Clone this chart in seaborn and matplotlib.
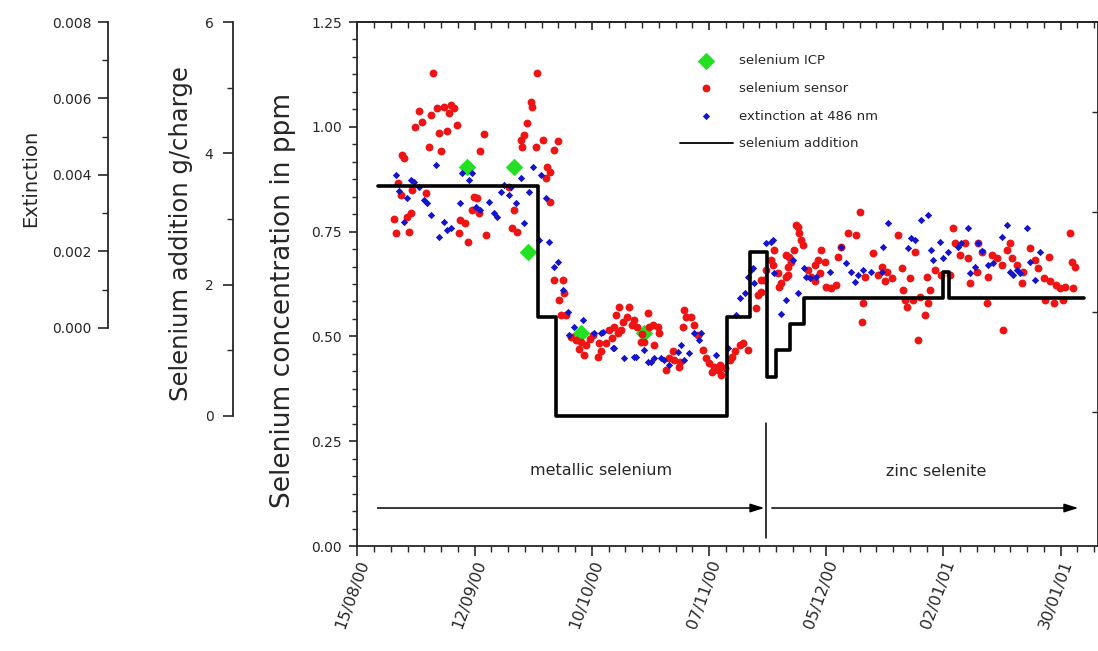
import numpy as np
import pandas as pd
import matplotlib
matplotlib.use("Agg")
import matplotlib.pyplot as plt
import matplotlib.dates as mdates
from matplotlib.ticker import MultipleLocator, FixedLocator, FormatStrFormatter, NullFormatter
import seaborn as sns

# ---------------- data ----------------
START = "2000-08-15"

# selenium ICP (days after start, ppm)
icp_day = [26.1, 37.3, 40.7, 53.4, 68.4]
icp_ppm = [0.904, 0.904, 0.701, 0.508, 0.508]

# selenium sensor (days after start, ppm)
sensor_day = [
    18.1, 14.7, 13.8, 15.5, 17.5, 19.1, 20.7, 22.3, 23.0, 21.8, 23.9, 19.5, 21.5, 17.1, 19.9,
    10.7, 11.1, 30.2, 29.4, 42.8, 41.4, 41.8, 40.6, 39.8, 39.0, 39.4, 44.4, 42.6, 47.8, 47.0,
    45.4, 46.0, 45.0, 46.0, 9.6, 10.3, 13.1, 16.3, 8.7, 11.9, 12.7, 9.3, 12.3, 27.8, 28.6,
    27.4, 29.0, 24.6, 25.8, 24.2, 26.3, 30.6, 37.4, 37.0, 38.2, 36.2, 47.0, 49.0, 49.4, 48.2,
    48.6,
    49.8, 51.0, 52.2, 53.4, 54.6, 54.2, 56.2, 57.8, 58.2, 57.4, 59.3, 60.1, 61.4, 62.2, 62.5,
    61.7, 63.4, 64.5, 64.9, 65.7, 66.9, 67.7, 69.3, 69.7, 70.5, 71.7, 72.1, 70.9, 68.5, 75.3,
    75.7, 73.7, 76.9, 78.1, 78.5, 77.7, 79.7, 80.5, 81.3, 82.5, 83.3, 84.1, 85.3, 86.1, 86.9,
    87.7, 88.9, 90.1, 91.3, 92.1, 93.3, 95.2, 95.6, 96.4, 97.6, 98.8, 99.6, 100.4, 101.2, 102.4,
    102.8, 103.2, 104.8, 105.6, 106.4, 104.3, 110.0, 109.2,
    53.0, 55.5, 60.8, 63.0, 66.0, 68.0, 74.5, 77.0, 84.8, 86.5, 89.5,
    120.0, 105.2, 106.0, 117.2, 119.2, 115.6, 114.8, 110.8, 111.6, 109.2, 110.4, 108.4, 107.6,
    103.6, 102.4, 102.8, 100.8, 99.2, 97.2, 96.4, 112.0, 113.2, 114.4, 120.8, 120.5, 121.2,
    123.2, 124.4, 125.2, 126.4, 127.6, 129.2, 130.0, 126.0, 130.4, 130.8, 131.2, 132.0, 133.2,
    132.7, 134.3, 135.5, 133.9, 136.3, 136.7, 136.0, 137.9, 139.5, 141.5, 142.3, 142.7, 143.9,
    145.1, 145.9, 146.3, 147.9, 148.3, 149.1, 150.3, 150.7, 151.5, 152.7, 153.9, 154.3, 155.1,
    155.9, 156.3, 157.5, 158.7, 159.1, 160.7, 161.9, 162.7, 163.9, 165.1, 164.3, 165.5, 166.3,
    167.0, 167.8, 168.6, 169.0, 170.2, 170.6, 171.4, 171.0,
]
sensor_ppm = [
    1.128, 1.038, 0.999, 1.012, 1.028, 1.044, 1.048, 1.052, 1.044, 1.032, 1.004, 0.986, 0.991, 0.953, 0.943,
    0.933, 0.925, 0.983, 0.943, 1.128, 1.060, 1.048, 1.008, 0.980, 0.969, 0.953, 0.969, 0.953, 0.965, 0.945,
    0.905, 0.893, 0.878, 0.821, 0.865, 0.837, 0.849, 0.841, 0.780, 0.786, 0.794, 0.747, 0.750, 0.833, 0.829,
    0.802, 0.794, 0.778, 0.770, 0.746, 0.726, 0.742, 0.802, 0.758, 0.750, 0.857, 0.635, 0.635, 0.603, 0.587,
    0.551,
    0.551, 0.499, 0.491, 0.487, 0.479, 0.456, 0.503, 0.484, 0.464, 0.452, 0.484, 0.515, 0.523, 0.507, 0.571,
    0.551, 0.535, 0.547, 0.571, 0.527, 0.523, 0.487, 0.555, 0.523, 0.527, 0.523, 0.507, 0.479, 0.487, 0.464,
    0.444, 0.420, 0.428, 0.563, 0.547, 0.523, 0.547, 0.527, 0.503, 0.468, 0.448, 0.436, 0.428, 0.420, 0.408,
    0.424, 0.444, 0.464, 0.479, 0.484, 0.468, 0.567, 0.599, 0.635, 0.658, 0.682, 0.706, 0.651, 0.627, 0.642,
    0.666, 0.690, 0.766, 0.746, 0.718, 0.706, 0.682, 0.631,
    0.470, 0.493, 0.497, 0.515, 0.540, 0.505, 0.448, 0.440, 0.415, 0.432, 0.452,
    0.797, 0.762, 0.730, 0.746, 0.742, 0.714, 0.690, 0.706, 0.678, 0.670, 0.651, 0.642, 0.658,
    0.678, 0.694, 0.646, 0.619, 0.670, 0.635, 0.607, 0.619, 0.615, 0.623, 0.579, 0.535, 0.642,
    0.698, 0.646, 0.666, 0.654, 0.639, 0.742, 0.662, 0.631, 0.611, 0.587, 0.571, 0.639, 0.702,
    0.587, 0.595, 0.551, 0.491, 0.579, 0.611, 0.642, 0.658, 0.646, 0.646, 0.758, 0.722, 0.694,
    0.722, 0.686, 0.627, 0.654, 0.722, 0.702, 0.579, 0.642, 0.694, 0.686, 0.670, 0.515, 0.706,
    0.722, 0.686, 0.670, 0.627, 0.654, 0.710, 0.682, 0.662, 0.639, 0.690, 0.587, 0.631, 0.579,
    0.623, 0.615, 0.587, 0.619, 0.746, 0.678, 0.666, 0.615,
]

# extinction at 486 nm (days after start, extinction)
ext_day = [
    9.1, 9.9, 12.7, 13.5, 14.7, 11.9, 15.9, 16.7, 18.7, 17.5, 11.1, 20.7, 21.5, 22.3, 19.5,
    25.0, 26.6, 27.4, 24.6, 28.4, 29.4, 31.4, 32.6, 33.4, 34.2, 35.0, 36.2, 36.6, 37.8, 39.0,
    39.8, 41.0, 42.0, 43.8, 45.0, 43.4, 45.8, 47.8, 47.0, 49.0, 50.2, 50.6, 53.8, 51.8, 56.6,
    58.6, 61.0, 63.7, 66.1, 69.3, 70.9, 73.3, 74.5, 77.3, 78.1, 79.3, 81.7, 82.1,
    58.2, 61.4, 66.5, 68.5, 70.1, 72.5, 76.5, 80.5, 85.7, 88.5, 90.5, 91.3, 92.5, 94.1, 93.3,
    94.8, 97.6, 98.8, 99.6, 102.4, 101.2, 104.0, 105.2, 106.8, 108.0, 109.6, 99.2, 94.5, 107.2,
    112.8, 115.6, 116.8, 118.0, 118.8, 119.6, 120.8, 122.8, 125.2, 125.6, 126.8, 131.5, 132.3,
    134.7, 136.3, 133.1, 137.1, 137.5, 139.1, 140.0, 141.1, 143.5, 144.3, 145.9, 146.3, 147.5,
    148.3, 149.1, 150.7, 151.9, 153.9, 155.1, 155.9, 156.7, 157.5, 158.3, 159.9, 160.7, 161.9,
    163.1,
]
ext_val = [
    0.00400, 0.00357, 0.00387, 0.00382, 0.00369, 0.00339, 0.00335, 0.00326, 0.00426, 0.00295,
    0.00278, 0.00278, 0.00256, 0.00261, 0.00239, 0.00404, 0.00387, 0.00404, 0.00326, 0.00317,
    0.00308, 0.00330, 0.00300, 0.00291, 0.00356, 0.00374, 0.00348, 0.00369, 0.00326, 0.00391,
    0.00274, 0.00356, 0.00422, 0.00400, 0.00339, 0.00230, 0.00226, 0.00173, 0.00160, 0.00099,
    0.00043, -0.00018, 0.00021, 0.00003, -0.00014, -0.00010, -0.00053, -0.00079, -0.00075,
    -0.00088, -0.00079, -0.00084, -0.00097, -0.00044, -0.00084, -0.00066, -0.00031, -0.00014,
    -0.00014, -0.00053, -0.00075, -0.00058, -0.00088, -0.00079, -0.00062, -0.00014, -0.00071,
    -0.00053, 0.00034, 0.00078, 0.00091, 0.00152, 0.00134, 0.00117, 0.00221, 0.00226, 0.00143,
    0.00073, 0.00037, 0.00178, 0.00091, 0.00156, 0.00130, 0.00134, 0.00230, 0.00156, 0.00134,
    0.00147, 0.00213, 0.00169, 0.00147, 0.00121, 0.00139, 0.00152, 0.00147, 0.00147, 0.00213,
    0.00274, 0.00208, 0.00234, 0.00282, 0.00295, 0.00230, 0.00204, 0.00178, 0.00226, 0.00182,
    0.00199, 0.00213, 0.00221, 0.00261, 0.00143, 0.00160, 0.00222, 0.00200, 0.00165, 0.00169,
    0.00239, 0.00269, 0.00147, 0.00139, 0.00152, 0.00143, 0.00261, 0.00173, 0.00125, 0.00199,
]

# selenium addition (step changes: days after start, g/charge)
add_day = [5.0, 43.1, 47.4, 88.3, 93.8, 97.9, 100.0, 103.4, 106.7, 139.8, 141.4, 173.5]
add_g = [3.5, 1.5, 0.0, 1.5, 2.5, 0.6, 1.0, 1.4, 1.8, 2.2, 1.8, 1.8]

# phases (days after start)
phase_start, phase_change, phase_end = 4.8, 97.5, 172.2
phase_labels = ["metallic selenium", "zinc selenite"]

# axis ticks
ppm_ticks = [0.00, 0.25, 0.50, 0.75, 1.00, 1.25]
charge_ticks = [0, 2, 4, 6]
ext_ticks = [0.000, 0.002, 0.004, 0.006, 0.008]
date_ticks = pd.date_range(START, periods=7, freq="28D")
date_minor = pd.date_range(START, periods=46, freq="4D")


def to_dates(days):
    return pd.Timestamp(START) + pd.to_timedelta(np.asarray(days, dtype=float), unit="D")


# ---------------- plot ----------------
sns.set_style("ticks")
plt.rcParams["font.family"] = ["DejaVu Sans"]
plt.rcParams["axes.linewidth"] = 1.3

W, H = 1098, 651
AX_L, AX_R, AX_T, AX_B = 357, 1097.5, 22, 546
fig = plt.figure(figsize=(W / 100, H / 100), dpi=100)
ax = fig.add_axes([AX_L / W, (H - AX_B) / H, (AX_R - AX_L) / W, (AX_B - AX_T) / H])


def ax_frac(px, py):
    return (px - AX_L) / (AX_R - AX_L), (AX_B - py) / (AX_B - AX_T)


ax_e = ax.twinx()
ax_e.set_zorder(1)
ax_s = ax.twinx()
ax_s.set_zorder(2)
ax_r = ax.twinx()
ax_r.set_zorder(3)
for a in (ax_e, ax_s, ax_r):
    a.patch.set_visible(False)

green = "#22e022"
red = "#ee1414"
blue = "#1414cc"

sns.scatterplot(x=to_dates(icp_day), y=icp_ppm, ax=ax, marker="D", s=80, color=green,
                linewidth=0, label="selenium ICP", zorder=3)
sns.scatterplot(x=to_dates(sensor_day), y=sensor_ppm, ax=ax, marker="o", s=32, color=red,
                linewidth=0, label="selenium sensor", zorder=4)
sns.scatterplot(x=to_dates(ext_day), y=ext_val, ax=ax_e, marker="D", s=14, color=blue,
                linewidth=0, label="extinction at 486 nm")
sns.lineplot(x=to_dates(add_day), y=add_g, ax=ax_s, drawstyle="steps-post", color="black",
             linewidth=2.6, estimator=None, sort=False, label="selenium addition")

for a in (ax, ax_e, ax_s, ax_r):
    lg = a.get_legend()
    if lg is not None:
        lg.remove()

# x axis
x0 = mdates.date2num(pd.Timestamp(START) + pd.Timedelta(days=-0.1))
x1 = mdates.date2num(pd.Timestamp(START) + pd.Timedelta(days=176.8))
ax.set_xlim(x0, x1)
ax.xaxis.set_major_locator(FixedLocator(mdates.date2num(date_ticks)))
ax.xaxis.set_minor_locator(FixedLocator(mdates.date2num(date_minor)))
ax.xaxis.set_major_formatter(mdates.DateFormatter("%d/%m/%y"))
ax.tick_params(axis="x", which="major", direction="out", length=7, width=1.2, pad=2, labelsize=11.5)
ax.tick_params(axis="x", which="minor", direction="out", length=4, width=1.0)
for lab in ax.get_xticklabels():
    lab.set_rotation(70)
    lab.set_ha("right")
    lab.set_va("top")
    lab.set_rotation_mode("anchor")

sec = ax.secondary_xaxis("top")
sec.xaxis.set_major_locator(FixedLocator(mdates.date2num(date_ticks)))
sec.xaxis.set_minor_locator(FixedLocator(mdates.date2num(date_minor)))
sec.xaxis.set_major_formatter(NullFormatter())
sec.tick_params(axis="x", which="major", direction="in", length=6, width=1.2, labeltop=False)
sec.tick_params(axis="x", which="minor", direction="in", length=4, width=1.0)

# main ppm axis
ax.set_ylim(0, 1.25)
ax.yaxis.set_major_locator(FixedLocator(ppm_ticks))
ax.yaxis.set_minor_locator(MultipleLocator(0.25 / 6))
ax.yaxis.set_major_formatter(FormatStrFormatter("%.2f"))
ax.tick_params(axis="y", which="major", direction="out", length=6, width=1.2, pad=5, labelsize=10)
ax.tick_params(axis="y", which="minor", direction="out", length=3.5, width=1.0)
ax.set_ylabel("Selenium concentration in ppm", fontsize=19)
ax.yaxis.set_label_coords(*ax_frac(296, 300))
ax.set_xlabel("")
for sp in ax.spines.values():
    sp.set_visible(True)
    sp.set_linewidth(1.3)

# selenium addition axis
ax_s.set_ylim(-1.98, 6)
ax_s.yaxis.set_ticks_position("left")
ax_s.yaxis.set_label_position("left")
ax_s.spines["left"].set_position(("outward", (AX_L - 233) * 0.72))
ax_s.spines["left"].set_bounds(0, 6)
for s in ("right", "top", "bottom"):
    ax_s.spines[s].set_visible(False)
ax_s.spines["left"].set_visible(True)
ax_s.yaxis.set_major_locator(FixedLocator(charge_ticks))
ax_s.yaxis.set_minor_locator(FixedLocator([1, 3, 5]))
ax_s.tick_params(axis="y", which="major", direction="out", length=7, width=1.2, pad=7, labelsize=10)
ax_s.tick_params(axis="y", which="minor", direction="out", length=4, width=1.0)
ax_s.set_ylabel("Selenium addition g/charge", fontsize=17.5)
ax_s.yaxis.set_label_coords(*ax_frac(193, 234))
ax_s.set_xlabel("")

# extinction axis
ax_e.set_ylim(-0.0057, 0.008)
ax_e.yaxis.set_ticks_position("left")
ax_e.yaxis.set_label_position("left")
ax_e.spines["left"].set_position(("outward", (AX_L - 108) * 0.72))
ax_e.spines["left"].set_bounds(0, 0.008)
for s in ("right", "top", "bottom"):
    ax_e.spines[s].set_visible(False)
ax_e.spines["left"].set_visible(True)
ax_e.yaxis.set_major_locator(FixedLocator(ext_ticks))
ax_e.yaxis.set_minor_locator(FixedLocator([0.001, 0.003, 0.005, 0.007]))
ax_e.yaxis.set_major_formatter(FormatStrFormatter("%.3f"))
ax_e.tick_params(axis="y", which="major", direction="out", length=7, width=1.2, pad=5, labelsize=10)
ax_e.tick_params(axis="y", which="minor", direction="out", length=4, width=1.0)
ax_e.set_ylabel("Extinction", fontsize=14)
ax_e.yaxis.set_label_coords(*ax_frac(40, 178))
ax_e.set_xlabel("")

# right-hand tick marks
ax_r.set_ylim(-1.34, 3.9)
for s in ax_r.spines.values():
    s.set_visible(False)
ax_r.yaxis.set_major_locator(FixedLocator([0, 1, 2, 3]))
ax_r.yaxis.set_major_formatter(NullFormatter())
ax_r.tick_params(axis="y", which="major", direction="in", length=4, width=1.0)
ax_r.set_xlabel("")
ax_r.set_ylabel("")

# phase annotations
arrow_y = 0.0906
d = lambda v: mdates.date2num(pd.Timestamp(START) + pd.Timedelta(days=v))
arrow_kw = dict(arrowstyle="-|>,head_length=0.7,head_width=0.22", color="black", lw=1.1,
                mutation_scale=12, shrinkA=0, shrinkB=0)
ax.annotate("", xy=(d(phase_change - 0.3), arrow_y), xytext=(d(phase_start), arrow_y),
            arrowprops=arrow_kw, zorder=5)
ax.annotate("", xy=(d(phase_end), arrow_y), xytext=(d(phase_change + 1.5), arrow_y),
            arrowprops=arrow_kw, zorder=5)
ax.plot([d(phase_change), d(phase_change)], [0.019, 0.293], color="black", lw=1.1, zorder=5)
ax.text(d((phase_start + phase_change) / 2 + 7), 0.181, phase_labels[0], ha="center",
        va="center", fontsize=11.5)
ax.text(d((phase_change + phase_end) / 2 + 3.5), 0.177, phase_labels[1], ha="center",
        va="center", fontsize=11.5)

# legend
handles, labels = [], []
for a in (ax, ax_e, ax_s):
    h, l = a.get_legend_handles_labels()
    handles += h
    labels += l
leg = fig.legend(handles, labels, loc="upper left", bbox_to_anchor=(680 / W, 1 - 54 / H),
                 frameon=False, fontsize=9.5, handlelength=4.0, handletextpad=0.5,
                 labelspacing=1.12, borderpad=0, borderaxespad=0)
for ln in leg.get_lines():
    ln.set_linewidth(1.3)

fig.savefig("out.png", dpi=100)
